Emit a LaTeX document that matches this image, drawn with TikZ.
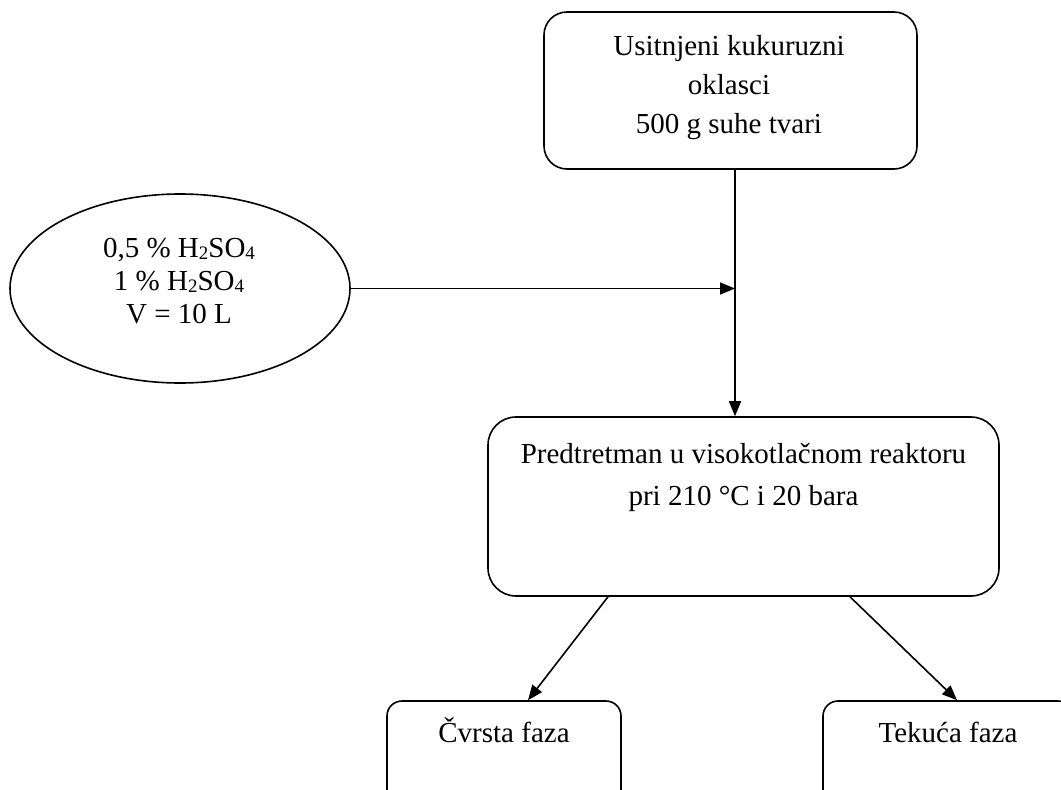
\documentclass[tikz,border=0pt]{standalone}
\usepackage{fontspec}
\setmainfont{Liberation Serif}
\usetikzlibrary{arrows.meta,shapes.geometric}
\newcommand{\subsc}[1]{\raisebox{-0.1em}{\fontsize{19}{19}\selectfont #1}}
\tikzset{
  boxshape/.style={draw, line width=1.6pt, inner sep=0pt},
  txt/.style={anchor=base, align=center, inner sep=0pt, text=black},
  conn/.style={line width=1.6pt, -{Triangle[length=15pt,width=12pt]}}
}
\begin{document}
\begin{tikzpicture}[x=1pt,y=-1pt]
\useasboundingbox (0,0) rectangle (1061,790);
\fill[white] (0,0) rectangle (1061,790);
\clip (0,0) rectangle (1061,790);

% shapes
\node[boxshape, rounded corners=23pt, minimum width=373pt, minimum height=157pt] (top) at (730.5,90.5) {};
\node[boxshape, ellipse, minimum width=340pt, minimum height=189pt] (acid) at (180,288.5) {};
\node[boxshape, rounded corners=28pt, minimum width=511pt, minimum height=179pt] (mid) at (743.5,506.5) {};
\node[boxshape, rounded corners=15pt, minimum width=234pt, minimum height=110pt] (solid) at (504,756) {};
\node[boxshape, rounded corners=15pt, minimum width=250pt, minimum height=110pt] (liquid) at (948,756) {};

% texts (anchor base = baseline of the last line)
\node[txt, font=\fontsize{29}{39}\selectfont] (toptxt) at (729,133) {Usitnjeni kukuruzni\\oklasci\\500 g suhe tvari};
\node[txt, font=\fontsize{29}{33}\selectfont] (acidtxt) at (179,323) {0,5 \% H\subsc{2}SO\subsc{4}\\1 \% H\subsc{2}SO\subsc{4}\\V = 10 L};
\node[txt, font=\fontsize{29}{42}\selectfont] (midtxt) at (743.5,505) {Predtretman u visokotlačnom reaktoru\\pri 210 °C i 20 bara};
\node[txt, font=\fontsize{29}{35}\selectfont] (solidtxt) at (504,742) {Čvrsta faza};
\node[txt, font=\fontsize{29}{35}\selectfont] (liquidtxt) at (948,742) {Tekuća faza};

% connectors
\coordinate (vx) at ([xshift=4.5pt]top.south);
\draw[conn] (vx) -- (vx |- mid.north);
\draw[conn] (acid.east) -- (acid.east -| vx);
\draw[conn] ([xshift=-135.5pt]mid.south) -- ([xshift=24pt]solid.north);
\draw[conn] ([xshift=106.5pt]mid.south) -- ([xshift=9pt]liquid.north);
\end{tikzpicture}
\end{document}
